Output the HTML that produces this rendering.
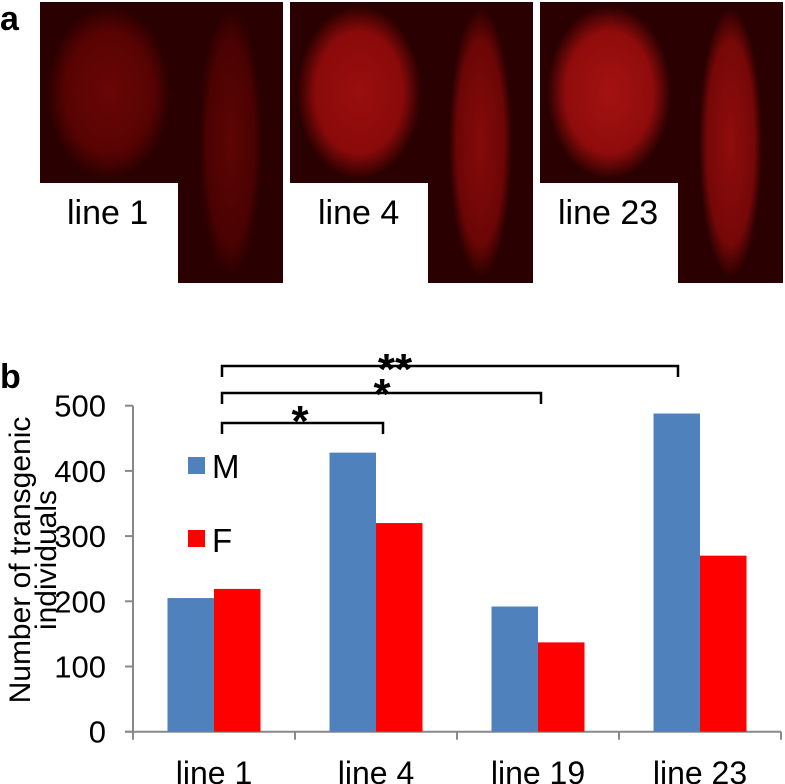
<!DOCTYPE html>
<html><head><meta charset="utf-8"><style>
html,body{margin:0;padding:0;background:#fff;}
body{width:785px;height:784px;position:relative;overflow:hidden;font-family:"Liberation Sans",sans-serif;}
.ph{position:absolute;}
.lbl{position:absolute;font-size:34px;color:#000;}
</style></head><body>
<div style="position:absolute;left:0;top:0;font-size:34px;font-weight:bold;">a</div>
<div class="ph" style="left:40px;top:2px;width:138px;height:181px;background:radial-gradient(ellipse 45% 48% at 50% 50%,#6a0505 0%,#580303 70%,#2a0000 100%);"></div>
<div class="ph" style="left:178px;top:2px;width:105px;height:281px;background:radial-gradient(ellipse 30% 48% at 50% 50%,#5e0404 0%,#4a0202 75%,#2a0000 100%);"></div>
<div class="lbl" style="left:67px;top:194px;">line 1</div>
<div class="ph" style="left:290px;top:2px;width:138px;height:181px;background:radial-gradient(ellipse 45% 48% at 50% 50%,#9a0e0e 0%,#8a0a0a 70%,#2a0000 100%);"></div>
<div class="ph" style="left:428px;top:2px;width:105px;height:281px;background:radial-gradient(ellipse 30% 48% at 50% 50%,#860a0a 0%,#6c0606 75%,#2a0000 100%);"></div>
<div class="lbl" style="left:318px;top:194px;">line 4</div>
<div class="ph" style="left:540px;top:2px;width:138px;height:181px;background:radial-gradient(ellipse 45% 48% at 50% 50%,#a41212 0%,#900c0c 70%,#2a0000 100%);"></div>
<div class="ph" style="left:678px;top:2px;width:105px;height:281px;background:radial-gradient(ellipse 30% 48% at 50% 50%,#900c0c 0%,#760808 75%,#2a0000 100%);"></div>
<div class="lbl" style="left:558px;top:194px;">line 23</div>
<div style="position:absolute;left:0;top:358px;font-size:34px;font-weight:bold;">b</div>
<svg id="chart" width="785" height="784" style="position:absolute;left:0;top:0"></svg>
<script>
const categories=["line 1","line 4","line 19","line 23"];
const maleValues=[205,428,192,488];
const femaleValues=[219,320,137,270];
const yTicks=[0,100,200,300,400,500];
const NS="http://www.w3.org/2000/svg";
const svg=document.getElementById("chart");
const x0=133,x1=781,y0=731.7,yTop=405.7,yMax=500;
const bw=(x1-x0)/categories.length;
function yS(v){return y0-(v/yMax)*(y0-yTop);}
function xC(i){return x0+bw*(i+0.5);}
function mk(t,a){const e=document.createElementNS(NS,t);for(const k in a)e.setAttribute(k,a[k]);svg.appendChild(e);return e;}
let ax=mk("line",{x1:x0,y1:yTop,x2:x0,y2:y0+8,stroke:"#888","stroke-width":2});


let xa=mk("line",{x1:x0-8,y1:y0,x2:x1,y2:y0,stroke:"#888","stroke-width":2});


yTicks.forEach(v=>{
  const t=mk("line",{x1:x0-8,y1:yS(v),x2:x0,y2:yS(v),stroke:"#888","stroke-width":2});
  
  
  const l=mk("text",{x:x0-27,y:yS(v)+11,"text-anchor":"end","font-size":31,"font-family":"Liberation Sans, sans-serif"});
  l.textContent=v;
  
  
});
for(let i=1;i<=categories.length;i++){
  const t=mk("line",{x1:x0+bw*i,y1:y0,x2:x0+bw*i,y2:y0+8,stroke:"#888","stroke-width":2});
  
  
}
const barW=46.5;
categories.forEach((c,i)=>{
  const m=mk("rect",{x:xC(i)-barW,y:yS(maleValues[i]),width:barW,height:y0-yS(maleValues[i]),fill:"#4f81bd"});
  
  
  const f=mk("rect",{x:xC(i),y:yS(femaleValues[i]),width:barW,height:y0-yS(femaleValues[i]),fill:"#ff0000"});
  
  
  const l=mk("text",{x:xC(i),y:784,"text-anchor":"middle","font-size":32,"font-family":"Liberation Sans, sans-serif"});
  l.textContent=c;
  
  
});
const yt=mk("text",{transform:"translate(30,560) rotate(-90)","text-anchor":"middle","font-size":30,"font-family":"Liberation Sans, sans-serif"});
yt.textContent="Number of transgenic";


const yt2=mk("text",{transform:"translate(56,560) rotate(-90)","text-anchor":"middle","font-size":30,"font-family":"Liberation Sans, sans-serif"});
yt2.textContent="individuals";


const lm=mk("rect",{x:188,y:457,width:17,height:17,fill:"#4f81bd"});


const lmt=mk("text",{x:212,y:478,"font-size":33,"font-family":"Liberation Sans, sans-serif"});
lmt.textContent="M";


const lf=mk("rect",{x:188,y:530,width:17,height:17,fill:"#ff0000"});


const lft=mk("text",{x:212,y:552,"font-size":33,"font-family":"Liberation Sans, sans-serif"});
lft.textContent="F";


const brackets=[[423,383,"*",300,436],[393,541,"*",382,409],[366,678,"**",395,384]];
brackets.forEach(b=>{
  const p=mk("path",{d:`M222,${b[0]+11} V${b[0]} H${b[1]} V${b[0]+11}`,fill:"none",stroke:"#000","stroke-width":2.5});
  
  
  const s=mk("text",{x:b[3],y:b[4],"text-anchor":"middle","font-size":44,"font-weight":"bold","font-family":"Liberation Sans, sans-serif"});
  s.textContent=b[2];
  
  
});
</script>
</body></html>
